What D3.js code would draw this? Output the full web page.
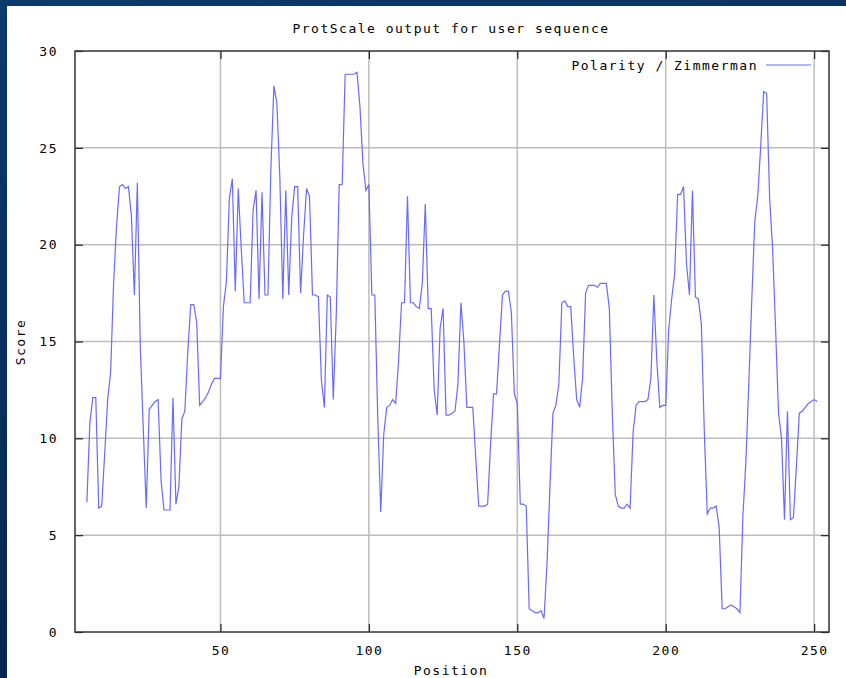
<!DOCTYPE html>
<html>
<head>
<meta charset="utf-8">
<script src="https://cdn.jsdelivr.net/npm/d3@7"></script>
<style>
	html, body { margin: 0; padding: 0; }
	body { width: 846px; height: 678px; overflow: hidden; }
	text { font-family: "DejaVu Sans Mono", monospace; font-size: 13px; letter-spacing: 1.5px; fill: #000; }
</style>
</head>
<body>
<div id="wrapper"></div>
<script>
const chartTitle = "ProtScale output for user sequence";
const seriesName = "Polarity / Zimmerman";
const xLabel = "Position";
const yLabel = "Score";

const xTicks = [50, 100, 150, 200, 250];
const yTicks = [0, 5, 10, 15, 20, 25, 30];

// first window centre of the scan
const firstPosition = 5;

// scores, positions 5..251
const scores = [
	6.7, 10.8, 12.1, 12.1, 6.4, 6.5, 9.2, 12.0, 13.4, 18.0,
	21.0, 23.0, 23.1, 22.9, 23.0, 21.5, 17.4, 23.2, 14.7, 10.5,
	6.4, 11.5, 11.7, 11.9, 12.0, 7.8, 6.3, 6.3, 6.3, 12.1,
	6.6, 7.5, 11.0, 11.4, 14.5, 16.9, 16.9, 16.0, 11.7, 11.9,
	12.1, 12.4, 12.8, 13.1, 13.1, 13.1, 16.8, 18.1, 22.4, 23.4,
	17.6, 22.9, 19.8, 17.0, 17.0, 17.0, 21.8, 22.8, 17.2, 22.7,
	17.4, 17.4, 24.0, 28.2, 27.3, 23.5, 17.2, 22.8, 17.4, 21.4,
	23.0, 23.0, 17.5, 20.5, 22.9, 22.5, 17.4, 17.4, 17.3, 13.0,
	11.6, 17.4, 17.3, 12.0, 16.3, 23.1, 23.1, 28.8, 28.8, 28.8,
	28.8, 28.9, 27.1, 24.2, 22.8, 23.1, 17.4, 17.4, 11.0, 6.2,
	10.2, 11.6, 11.7, 12.0, 11.8, 14.0, 17.0, 17.0, 22.5, 17.0,
	17.0, 16.8, 16.7, 18.0, 22.1, 16.7, 16.7, 12.5, 11.2, 15.7,
	16.7, 11.2, 11.2, 11.3, 11.4, 12.8, 17.0, 15.0, 11.6, 11.6,
	11.6, 9.0, 6.5, 6.5, 6.5, 6.6, 9.7, 12.3, 12.3, 14.9,
	17.4, 17.6, 17.6, 16.5, 12.3, 11.8, 6.6, 6.6, 6.5, 1.2,
	1.1, 1.0, 1.0, 1.1, 0.7, 3.5, 7.5, 11.3, 11.7, 12.8,
	17.0, 17.1, 16.8, 16.8, 14.2, 12.0, 11.6, 13.1, 17.5, 17.9,
	17.9, 17.9, 17.8, 18.0, 18.0, 18.0, 16.7, 11.3, 7.1, 6.5,
	6.4, 6.4, 6.6, 6.4, 10.3, 11.7, 11.9, 11.9, 11.9, 12.0,
	13.1, 17.4, 14.0, 11.6, 11.7, 11.7, 15.6, 17.2, 18.5, 22.6,
	22.6, 23.0, 19.0, 17.4, 22.8, 17.3, 17.2, 15.9, 10.3, 6.1,
	6.4, 6.4, 6.5, 5.4, 1.2, 1.2, 1.3, 1.4, 1.3, 1.2,
	1.0, 6.0, 8.8, 12.9, 17.2, 21.2, 22.5, 25.1, 27.9, 27.8,
	22.4, 19.8, 15.7, 11.3, 10.0, 5.8, 11.4, 5.8, 5.9, 8.5,
	11.3, 11.4, 11.6, 11.8, 11.9, 12.0, 11.9
];

function drawChart() {
	const data = scores.map((d, i) => ({ position: firstPosition + i, score: d }));

	const xAccessor = d => d.position;
	const yAccessor = d => d.score;

	let dimensions = {
		width: 846,
		height: 678,
		margin: {
			top: 51,
			right: 17,
			bottom: 46,
			left: 75
		}
	};
	dimensions.boundedWidth = dimensions.width - dimensions.margin.left - dimensions.margin.right;
	dimensions.boundedHeight = dimensions.height - dimensions.margin.top - dimensions.margin.bottom;

	const svg = d3.select("#wrapper").append("svg")
		.attr("width", dimensions.width)
		.attr("height", dimensions.height);

	// dark blue frame behind the white page
	const grad = svg.append("defs").append("linearGradient")
		.attr("id", "frame")
		.attr("x1", 0).attr("y1", 0).attr("x2", 0.3).attr("y2", 1);
	grad.append("stop").attr("offset", 0).attr("stop-color", "#0b3a6c");
	grad.append("stop").attr("offset", 1).attr("stop-color", "#05234c");

	svg.append("rect")
		.attr("width", dimensions.width)
		.attr("height", dimensions.height)
		.attr("fill", "url(#frame)");
	svg.append("rect")
		.attr("x", 7)
		.attr("y", 6)
		.attr("width", dimensions.width - 7)
		.attr("height", dimensions.height - 6)
		.attr("fill", "#ffffff");

	const bounds = svg.append("g")
		.attr("transform", `translate(${dimensions.margin.left}, ${dimensions.margin.top})`);

	const xScale = d3.scaleLinear()
		.domain([1, 255])
		.range([0, dimensions.boundedWidth]);

	const yScale = d3.scaleLinear()
		.domain([0, 30])
		.range([dimensions.boundedHeight, 0]);

	// grid
	bounds.append("g")
		.selectAll("line")
		.data(yTicks.filter(d => d > 0 && d < 30))
		.join("line")
		.attr("x1", 0)
		.attr("x2", dimensions.boundedWidth)
		.attr("y1", d => yScale(d))
		.attr("y2", d => yScale(d))
		.attr("stroke", "#bdbdbd")
		.attr("stroke-width", 1.5);

	bounds.append("g")
		.selectAll("line")
		.data(xTicks)
		.join("line")
		.attr("x1", d => xScale(d))
		.attr("x2", d => xScale(d))
		.attr("y1", 0)
		.attr("y2", dimensions.boundedHeight)
		.attr("stroke", "#bdbdbd")
		.attr("stroke-width", 1.5);

	// axes, ticks pointing inwards and mirrored
	const tickLen = 8;
	const yAxis = bounds.append("g")
		.call(d3.axisLeft(yScale).tickValues(yTicks).tickSizeInner(-tickLen).tickSizeOuter(0).tickPadding(tickLen + 9));
	const yAxisRight = bounds.append("g")
		.attr("transform", `translate(${dimensions.boundedWidth}, 0)`)
		.call(d3.axisRight(yScale).tickValues(yTicks).tickSizeInner(-tickLen).tickSizeOuter(0).tickFormat(""));
	const xAxis = bounds.append("g")
		.attr("transform", `translate(0, ${dimensions.boundedHeight})`)
		.call(d3.axisBottom(xScale).tickValues(xTicks).tickSizeInner(-tickLen).tickSizeOuter(0).tickPadding(tickLen + 6));
	const xAxisTop = bounds.append("g")
		.call(d3.axisTop(xScale).tickValues(xTicks).tickSizeInner(-tickLen).tickSizeOuter(0).tickFormat(""));

	[yAxis, yAxisRight, xAxis, xAxisTop].forEach(a => {
		a.select(".domain").remove();
		a.selectAll(".tick line").attr("stroke", "#222").attr("stroke-width", 1.2);
		a.selectAll(".tick text")
			.attr("fill", "#000")
			.style("font-family", "'DejaVu Sans Mono', monospace")
			.style("font-size", "13px");
	});

	// data line
	const lineGenerator = d3.line()
		.x(d => xScale(xAccessor(d)))
		.y(d => yScale(yAccessor(d)));

	bounds.append("path")
		.attr("d", lineGenerator(data))
		.attr("fill", "none")
		.attr("stroke", "#6a6aff")
		.attr("stroke-width", 1.2);

	// border
	bounds.append("rect")
		.attr("width", dimensions.boundedWidth)
		.attr("height", dimensions.boundedHeight)
		.attr("fill", "none")
		.attr("stroke", "#333")
		.attr("stroke-width", 1.5);

	// legend
	bounds.append("text")
		.attr("x", 683)
		.attr("y", 19)
		.attr("text-anchor", "end")
		.text(seriesName);
	bounds.append("line")
		.attr("x1", 691)
		.attr("x2", 736)
		.attr("y1", 14)
		.attr("y2", 14)
		.attr("stroke", "#6a6aff")
		.attr("stroke-width", 1.2);

	// titles
	svg.append("text")
		.attr("x", 451)
		.attr("y", 33)
		.attr("text-anchor", "middle")
		.text(chartTitle);

	svg.append("text")
		.attr("x", 451)
		.attr("y", 675)
		.attr("text-anchor", "middle")
		.text(xLabel);

	svg.append("text")
		.attr("transform", `translate(25, 342) rotate(-90)`)
		.attr("text-anchor", "middle")
		.text(yLabel);
}

drawChart();
</script>
</body>
</html>
